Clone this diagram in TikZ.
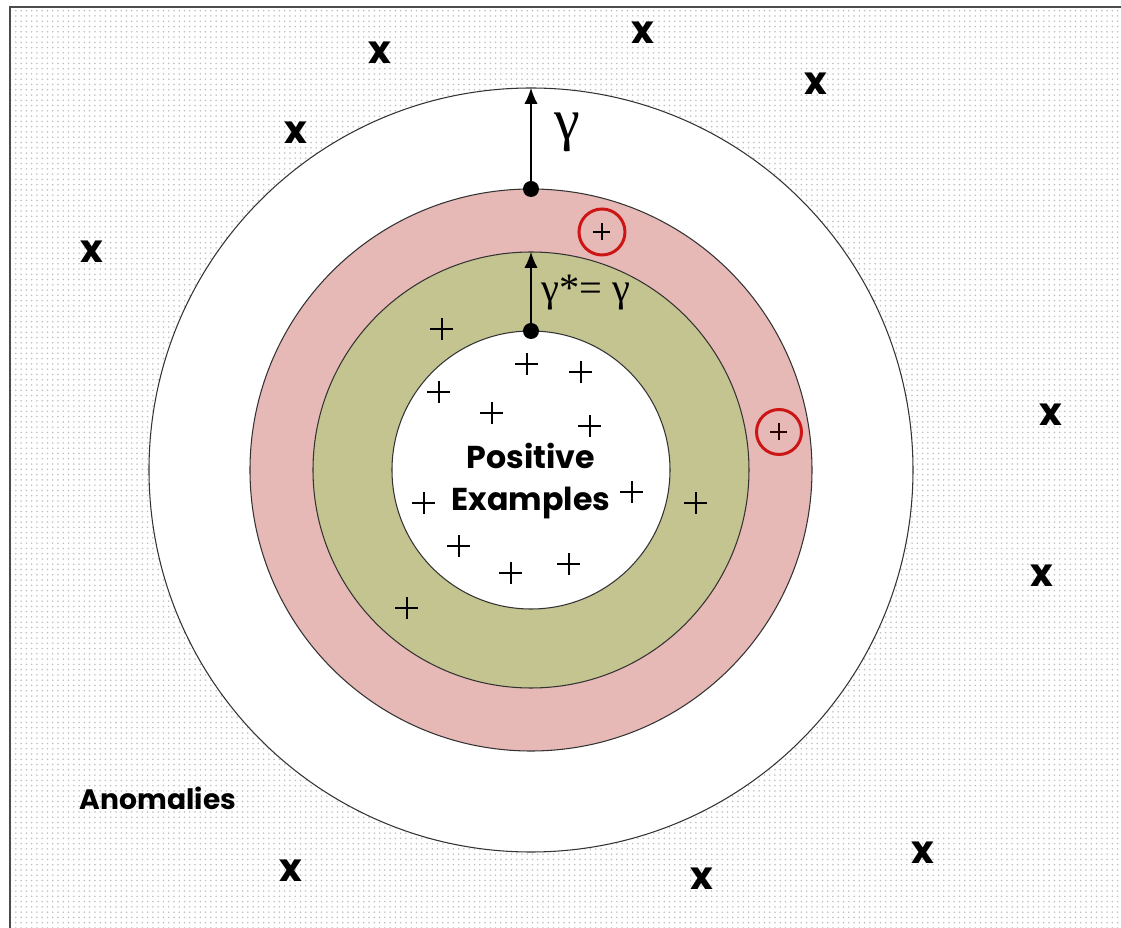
\documentclass[tikz,border=0pt]{standalone}
\usepackage{fontspec}
\setsansfont{Poppins}
\newfontfamily\greekfont{Liberation Serif}
\usetikzlibrary{arrows.meta,patterns}

\begin{document}
\begin{tikzpicture}[>={Latex[length=9pt,width=7.5pt]}, font=\sffamily\bfseries]
			\definecolor{ringpink}{RGB}{230,184,182}
			\definecolor{ringolive}{RGB}{196,196,145}
			\definecolor{markred}{RGB}{204,22,22}
			\tikzset{
				plusmark/.pic={\draw[line width=1.1pt] (-0.23,0) -- (0.23,0) (0,-0.22) -- (0,0.22);},
				smallplus/.pic={\draw[line width=1.1pt, #1] (-0.17,0) -- (0.17,0) (0,-0.17) -- (0,0.17);},
				anomaly/.style={font=\fontsize{22}{22}\sffamily\bfseries, inner sep=0pt},
				ringline/.style={draw=black!80, line width=0.6pt},
				hit/.style={draw=markred, line width=1.7pt}
			}
			\useasboundingbox (-10.62,-9.16) rectangle (11.8,9.4);

			% 背景（点阵）
			\fill[white] (-10.62,-9.16) rectangle (11.8,9.4);
			\fill[pattern=dots, pattern color=gray!50] (-10.42,-9.16) rectangle (11.8,9.26);
			\draw[line width=1.2pt, black!70] (-10.42,-9.16) -- (-10.42,9.26) -- (11.8,9.26);

			% 同心圆
			\filldraw[fill=white, ringline] (0,0) circle (7.64);
			\filldraw[fill=ringpink, ringline] (0,0) circle (5.62);
			\filldraw[fill=ringolive, ringline] (0,0) circle (4.36);
			\filldraw[fill=white, ringline] (0,0) circle (2.78);

			% 半径增量箭头
			\coordinate (outer) at (90:7.64);
			\coordinate (pink) at (90:5.62);
			\coordinate (olive) at (90:4.36);
			\coordinate (inner) at (90:2.78);
			\draw[->, line width=0.7pt] (pink) -- (outer);
			\draw[->, line width=0.7pt] (inner) -- (olive);
			\fill (pink) circle (0.16);
			\fill (inner) circle (0.16);
			\node[font=\greekfont\fontsize{33}{33}\selectfont] (gam) at (0.72,6.76) {γ};
			\node[font=\greekfont\fontsize{23}{23}\selectfont, anchor=west, inner sep=0pt] (gamstar) at (0.2,3.54) {γ*= γ};

			% 正例
			\foreach \x/\y in {-1.78/2.82, -0.08/2.12, 1.0/1.96, -1.84/1.56, -0.78/1.14, 1.18/0.88,
				2.02/-0.44, 3.30/-0.66, -2.14/-0.66, -1.44/-1.52, -0.40/-2.06, 0.76/-1.88, -2.48/-2.76}
				\pic at (\x,\y) {plusmark};

			% 被误判的正例
			\draw[hit] (1.42,4.76) circle (0.46);
			\pic at (1.42,4.76) {smallplus=black};
			\draw[hit] (4.96,0.76) circle (0.45);
			\pic at (4.96,0.76) {smallplus={black!60!red!40!black}};

			\node[font=\fontsize{18}{24}\sffamily\bfseries, align=center] (pos) at (0,-0.22) {Positive\\Examples};

			% 异常点
			\foreach \x/\y [count=\i] in {-3.02/8.34, 2.24/8.74, 5.70/7.72, -4.70/6.74, -8.78/4.36,
				10.40/1.10, 10.22/-2.12, -4.80/-8.02, 3.42/-8.18, 7.84/-7.66}
				\node[anomaly] (x\i) at (\x,\y) {x};
			\node[font=\fontsize{16}{16}\sffamily\bfseries] (anom) at (-7.46,-6.56) {Anomalies};
		\end{tikzpicture}
\end{document}
